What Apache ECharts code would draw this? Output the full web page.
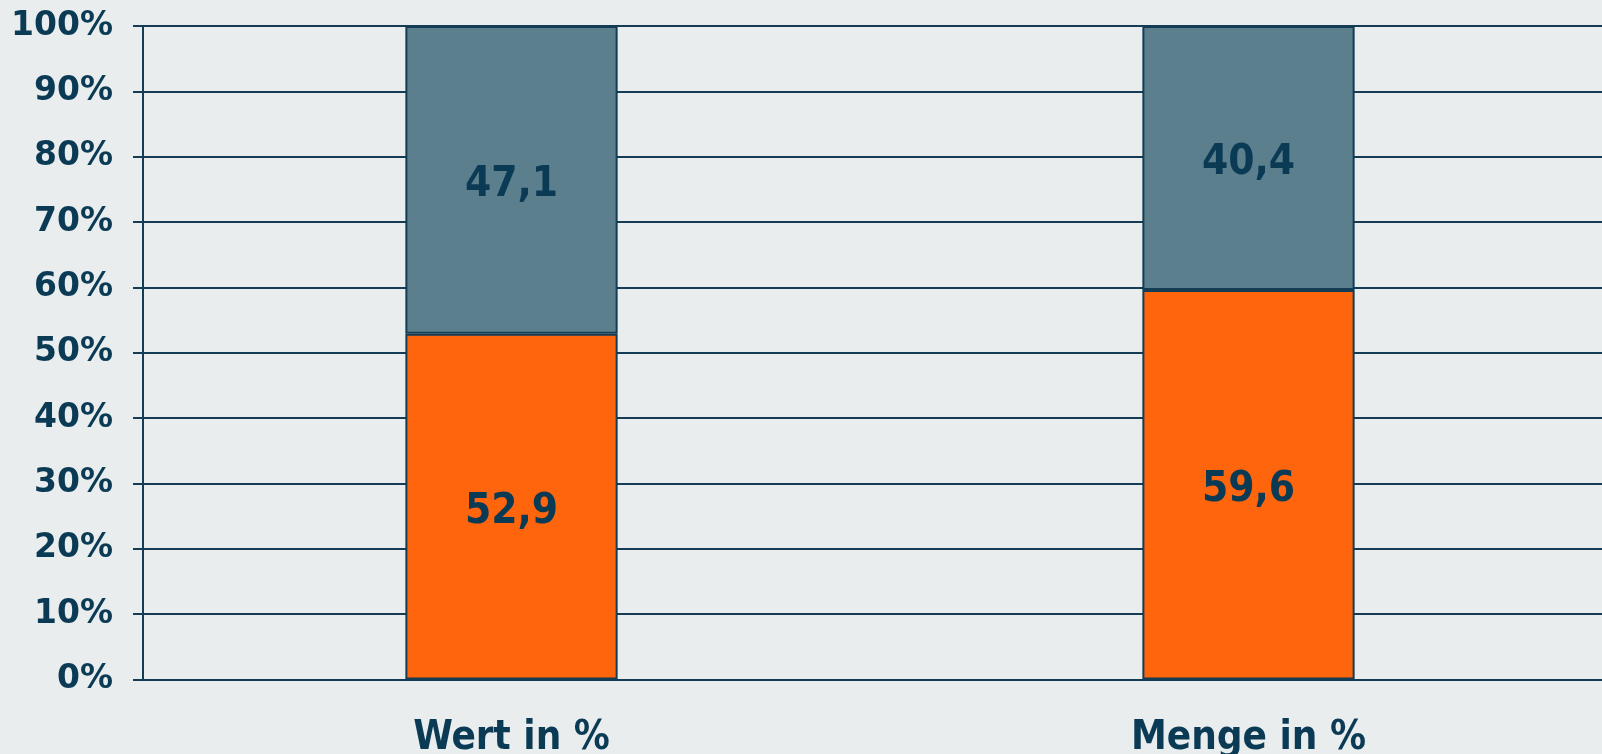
<!DOCTYPE html>
<html>
<head>
<meta charset="utf-8">
<script src="https://cdn.jsdelivr.net/npm/echarts@6/dist/echarts.min.js"></script>
<style>
  html, body { margin: 0; padding: 0; background: #e9edee; }
  #chart { width: 1602px; height: 754px; }
</style>
</head>
<body>
<div id="chart"></div>
<script>
const categories = ['Wert in %', 'Menge in %']
const orangeValues = [52.9, 59.6]
const greyValues = [47.1, 40.4]

const textColor = '#0b3a55'
const lineColor = '#143d55'
const fontFamily = 'DejaVu Sans'
const bigFont = "'DejaVu Sans Condensed', 'DejaVu Sans'"

const chart = echarts.init(document.getElementById('chart'))

const labelStyle = {
  show: true,
  position: 'inside',
  offset: [0, 5],
  color: textColor,
  fontFamily: bigFont,
  fontWeight: 'bold',
  fontSize: 42,
  formatter: (p) => p.value.toFixed(1).replace('.', ',')
}

chart.setOption({
  backgroundColor: '#e9edee',
  animation: false,
  grid: {
    left: 143,
    top: 26,
    width: 1474,
    height: 653.5,
    outerBoundsMode: 'none',
    containLabel: false
  },
  xAxis: {
    type: 'category',
    data: categories,
    axisLine: { lineStyle: { color: lineColor, width: 2 } },
    axisTick: { length: 13, lineStyle: { color: lineColor, width: 2 } },
    axisLabel: {
      color: textColor,
      fontFamily: bigFont,
      fontWeight: 'bold',
      fontSize: 40,
      margin: 39
    }
  },
  yAxis: {
    type: 'value',
    min: 0,
    max: 100,
    interval: 10,
    axisLine: { show: true, lineStyle: { color: lineColor, width: 2 } },
    axisTick: { show: true, length: 10, lineStyle: { color: lineColor, width: 2 } },
    splitLine: { lineStyle: { color: lineColor, width: 2 } },
    axisLabel: {
      formatter: '{value}%',
      color: textColor,
      fontFamily: fontFamily,
      fontWeight: 'bold',
      fontSize: 33,
      margin: 30
    }
  },
  series: [{
    name: 'orange',
    type: 'bar',
    stack: 'total',
    barWidth: '28.8%',
    data: orangeValues,
    itemStyle: { color: '#ff650c', borderColor: lineColor, borderWidth: 2 },
    label: labelStyle
  }, {
    name: 'grey',
    type: 'bar',
    stack: 'total',
    barWidth: '28.8%',
    data: greyValues,
    itemStyle: { color: '#5b7f8d', borderColor: lineColor, borderWidth: 2 },
    label: labelStyle
  }]
})
</script>
</body>
</html>
